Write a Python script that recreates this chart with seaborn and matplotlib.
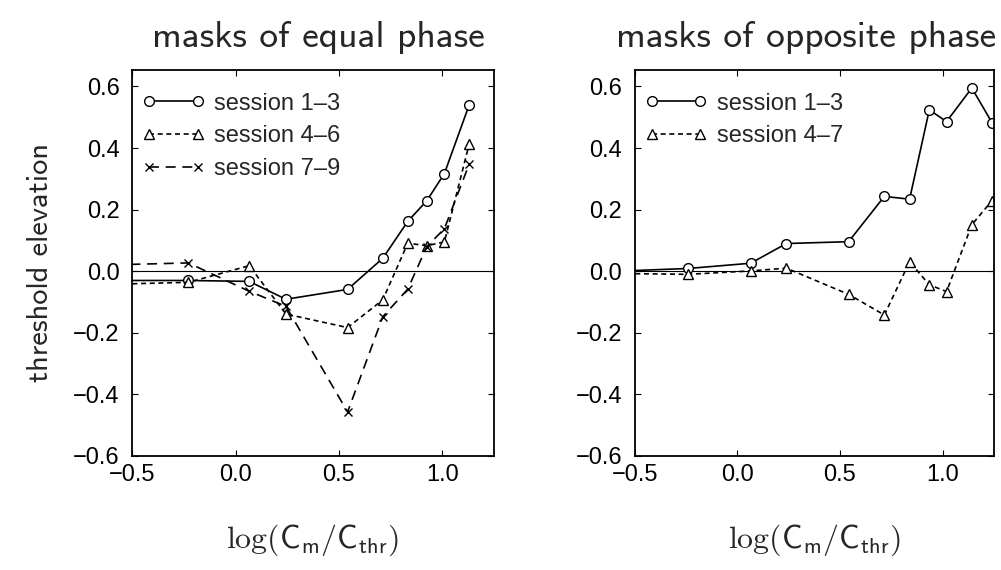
import numpy as np
import pandas as pd
import matplotlib
matplotlib.use("Agg")
import matplotlib.pyplot as plt
import seaborn as sns

# ---- data ----
x_equal = [-0.75, -0.228, 0.066, 0.244, 0.542, 0.712, 0.833, 0.925, 1.010, 1.130]
eq_s13 = [-0.030, -0.030, -0.033, -0.091, -0.059, 0.042, 0.162, 0.229, 0.317, 0.540]
eq_s46 = [-0.045, -0.036, 0.018, -0.139, -0.183, -0.093, 0.091, 0.083, 0.095, 0.413]
eq_s79 = [0.018, 0.027, -0.065, -0.114, -0.457, -0.148, -0.058, 0.080, 0.138, 0.348]

x_opp = [-0.75, -0.239, 0.065, 0.239, 0.542, 0.716, 0.839, 0.935, 1.019, 1.142, 1.240]
op_s13 = [-0.004, 0.009, 0.026, 0.090, 0.096, 0.243, 0.234, 0.524, 0.486, 0.595, 0.483]
op_s47 = [-0.006, -0.010, 0.001, 0.010, -0.075, -0.142, 0.031, -0.044, -0.066, 0.151, 0.229]

titles = ["masks of equal phase", "masks of opposite phase"]
xticks = [-0.5, 0.0, 0.5, 1.0]
yticks = [-0.6, -0.4, -0.2, 0.0, 0.2, 0.4, 0.6]

sns.set_theme(style="ticks")
plt.rcParams["font.family"] = ["Liberation Sans", "DejaVu Sans"]
plt.rcParams["mathtext.fontset"] = "cm"

fig = plt.figure(figsize=(10.01, 5.70), dpi=100)
ax1 = fig.add_axes([0.132, 0.200, 0.3615, 0.678])
ax2 = fig.add_axes([0.634, 0.200, 0.359, 0.678])

S_SOLID = "-"
S_DOT = (0, (3.0, 2.2))
S_DASH = (0, (6.0, 4.0))

def draw(ax, x, y, marker, ls, label, ms):
    df = pd.DataFrame({"x": x, "y": y})
    sns.lineplot(data=df, x="x", y="y", ax=ax, sort=False, estimator=None,
                 color="black", linewidth=1.2, linestyle=ls,
                 marker=marker, markersize=ms, markerfacecolor="white",
                 markeredgecolor="black", markeredgewidth=1.0, label=label)

draw(ax1, x_equal, eq_s13, "o", S_SOLID, "session 1\u20133", 7)
draw(ax1, x_equal, eq_s46, "^", S_DOT, "session 4\u20136", 6.5)
draw(ax1, x_equal, eq_s79, "x", S_DASH, "session 7\u20139", 6)

draw(ax2, x_opp, op_s13, "o", S_SOLID, "session 1\u20133", 7)
draw(ax2, x_opp, op_s47, "^", S_DOT, "session 4\u20137", 6.5)

title_x = [0.514, 0.478]

for ax, title, tx in zip([ax1, ax2], titles, title_x):
    ax.axhline(0, color="black", linewidth=0.8, zorder=0)
    ax.set_xlim(-0.5, 1.25)
    ax.set_ylim(-0.6, 0.655)
    ax.set_xticks(xticks)
    ax.set_yticks(yticks)
    ax.set_xticklabels([f"{v:.1f}".replace("-", "\u2212") for v in xticks])
    ax.set_yticklabels([f"{v:.1f}".replace("-", "\u2212") for v in yticks])
    ax.tick_params(direction="in", top=True, right=True, length=4, width=0.8,
                   labelsize=17, colors="black")
    ax.tick_params(axis="y", pad=9)
    ax.tick_params(axis="x", pad=6)
    for sp in ax.spines.values():
        sp.set_visible(True)
        sp.set_color("black")
        sp.set_linewidth(1.3)
    ax.set_title(title, fontsize=27, fontfamily="cmss10", pad=16, x=tx)
    ax.set_xlabel(r"$\log(\mathsf{C}_\mathsf{m}/\mathsf{C}_\mathsf{thr})$",
                  fontsize=23, labelpad=26)
    ax.set_ylabel("")
    ax.grid(False)
    ax.legend(loc="upper left", frameon=False, fontsize=17, numpoints=2,
              handlelength=2.65, handletextpad=0.4, labelspacing=0.45,
              borderaxespad=0.25, bbox_to_anchor=(-0.014, 0.98))

ax1.set_ylabel("threshold elevation", fontsize=22, fontfamily="cmss10", labelpad=14)

fig.savefig("out.png", dpi=100)
